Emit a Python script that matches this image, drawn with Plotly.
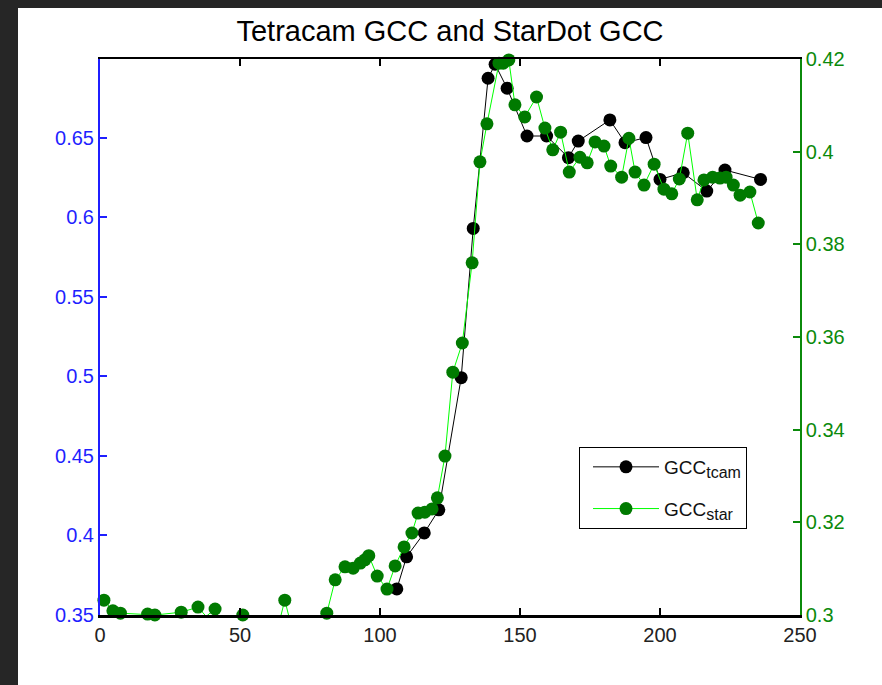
import numpy as np
import plotly.graph_objects as go

# ---------------- data ----------------
# Tetracam GCC (left axis)
tcam_day = [106, 109.5, 115.8, 121, 129, 133.3, 138.6, 141.1, 145.4,
            152.5, 159.5, 167.3, 170.8, 182.1, 187.5, 195.0, 200.0, 208.3, 216.7,
            223.2, 235.9]
tcam_gcc = [0.3664, 0.3866, 0.4016, 0.4161, 0.4992, 0.5930,
            0.6874, 0.6962, 0.6811, 0.6511, 0.6511, 0.6375, 0.6479, 0.6612, 0.6469,
            0.6501, 0.6238, 0.6280, 0.6165, 0.6297, 0.6238]

# StarDot GCC (right axis); values below 0.30 fall outside the plotted range
star_day = [1.4, 4.6, 7.3, 17, 19.6, 29, 35, 37.9, 41.1, 44, 51, 55, 59, 63, 66, 69, 73,
            77, 81, 84, 87.5, 90.4, 93, 94.6, 96, 99, 102.5, 105.4, 108.6, 111.4, 113.6,
            116, 118.6, 120.5, 123.2, 126, 129.4, 132.9, 135.7, 138.2, 142.5, 144, 146,
            148.2, 151.7, 155.9, 158.9, 161.7, 164.5, 167.6, 171.4, 174, 176.8, 180,
            182.4, 186.3, 188.9, 191.1, 194.3, 197.9, 201.4, 204.2, 206.9, 209.9, 213.3,
            215.7, 218.8, 221.4, 223.6, 226.2, 228.6, 232.1, 235.1]
star_gcc = [0.3032, 0.3009, 0.3004, 0.3002, 0.3000, 0.3006, 0.3017, 0.2997, 0.3013, 0.2970,
            0.3000, 0.2960, 0.2960, 0.2960, 0.3032, 0.2960, 0.2960, 0.2960, 0.3004, 0.3076,
            0.3104, 0.3101, 0.3112, 0.3119, 0.3128, 0.3084, 0.3056, 0.3106, 0.3147, 0.3177,
            0.3220, 0.3222, 0.3229, 0.3253, 0.3343, 0.3524, 0.3587, 0.3760, 0.3978, 0.4060,
            0.4191, 0.4191, 0.4198, 0.4101, 0.4075, 0.4118, 0.4051, 0.4004, 0.4042, 0.3956,
            0.3988, 0.3976, 0.4021, 0.4012, 0.3969, 0.3945, 0.4029, 0.3956, 0.3928, 0.3973,
            0.3919, 0.3909, 0.3941, 0.4040, 0.3896, 0.3939, 0.3945, 0.3943, 0.3945, 0.3928,
            0.3906, 0.3913, 0.3846]

x_ticks = [0, 50, 100, 150, 200, 250]
left_ticks = [0.35, 0.40, 0.45, 0.50, 0.55, 0.60, 0.65]
left_labels = ["0.35", "0.4", "0.45", "0.5", "0.55", "0.6", "0.65"]
right_ticks = [0.30, 0.32, 0.34, 0.36, 0.38, 0.40, 0.42]
right_labels = ["0.3", "0.32", "0.34", "0.36", "0.38", "0.4", "0.42"]

LEFT_RANGE = [0.35, 0.6995]
RIGHT_RANGE = [0.30, 0.42]

BLUE = "#1f1fff"
GREEN = "#0b8a0b"
FONT = "Liberation Sans, Arial, sans-serif"

td = np.array(tcam_day); tg = np.array(tcam_gcc)
sd = np.array(star_day); sg = np.array(star_gcc)
tmask = tg >= LEFT_RANGE[0] - 0.0005
smask = sg >= RIGHT_RANGE[0] - 0.0005

fig = go.Figure()

# Tetracam
fig.add_trace(go.Scatter(x=td, y=tg, mode="lines", line=dict(color="black", width=1),
                         showlegend=False, hoverinfo="skip", yaxis="y"))
fig.add_trace(go.Scatter(x=td[tmask], y=tg[tmask], mode="markers", cliponaxis=False,
                         marker=dict(color="black", size=13, line=dict(width=0)),
                         showlegend=False, yaxis="y"))
fig.add_trace(go.Scatter(x=[None], y=[None], mode="lines+markers",
                         name="GCC<sub><span style='font-size:16px'>tcam</span></sub>",
                         legendgroup="a",
                         line=dict(color="black", width=1),
                         marker=dict(color="black", size=13), yaxis="y"))
# StarDot
fig.add_trace(go.Scatter(x=sd, y=sg, mode="lines", line=dict(color="#00ff00", width=1),
                         showlegend=False, hoverinfo="skip", yaxis="y2"))
fig.add_trace(go.Scatter(x=sd[smask], y=sg[smask], mode="markers", cliponaxis=False,
                         marker=dict(color="#007a00", size=13, line=dict(width=0)),
                         showlegend=False, yaxis="y2"))
fig.add_trace(go.Scatter(x=[None], y=[None], mode="lines+markers",
                         name="GCC<sub><span style='font-size:16px'>star</span></sub>",
                         legendgroup="b",
                         line=dict(color="#00ff00", width=1),
                         marker=dict(color="#007a00", size=13), yaxis="y2"))
# empty trace so the top (mirror) axis is drawn
fig.add_trace(go.Scatter(x=[None], y=[None], mode="lines", xaxis="x2", yaxis="y",
                         showlegend=False, hoverinfo="skip"))

L, R, T, B = 100, 82, 59, 70
W, H = 882, 685
pw, ph = W - L - R, H - T - B

fig.update_layout(
    width=W, height=H,
    margin=dict(l=L, r=R, t=T, b=B),
    paper_bgcolor="#262626",
    plot_bgcolor="white",
    font=dict(family=FONT, size=20, color="#111111"),
    title=dict(text="Tetracam GCC and StarDot GCC", font=dict(size=29, color="black", family=FONT),
               x=0.5, xref="paper", xanchor="center", y=1 - 31 / H, yref="container",
               yanchor="middle"),
    xaxis=dict(range=[0, 250], tickvals=x_ticks, ticks="inside", ticklen=7, tickwidth=1.5,
               tickcolor="black", showline=True, linecolor="black", linewidth=2.5,
               showgrid=False, zeroline=False, tickfont=dict(size=20, color="#222222")),
    xaxis2=dict(range=[0, 250], tickvals=x_ticks, ticks="inside", ticklen=7, tickwidth=1.5,
                tickcolor="black", showline=True, linecolor="black", linewidth=1.5,
                showgrid=False, zeroline=False, showticklabels=False, overlaying="x",
                side="top", matches="x"),
    yaxis=dict(range=LEFT_RANGE, tickvals=left_ticks, ticktext=left_labels, ticks="inside",
               ticklen=7, tickwidth=1.5, tickcolor=BLUE, showline=True, linecolor=BLUE,
               linewidth=2, showgrid=False, zeroline=False,
               tickfont=dict(size=20, color=BLUE)),
    yaxis2=dict(range=RIGHT_RANGE, tickvals=right_ticks, ticktext=right_labels,
                ticks="inside", ticklen=7, tickwidth=1.5, tickcolor=GREEN, showline=True,
                linecolor=GREEN, linewidth=1.5, showgrid=False, zeroline=False,
                overlaying="y", side="right", tickfont=dict(size=20, color=GREEN)),
    legend=dict(x=(579 - L) / pw, y=(H - B - 447) / ph, xanchor="left", yanchor="top",
                bgcolor="white", bordercolor="black", borderwidth=1,
                font=dict(size=19, color="#111111", family=FONT), itemwidth=66,
                indentation=8, tracegroupgap=14),
    shapes=[dict(type="rect", xref="paper", yref="paper", layer="below",
                 x0=(18 - L) / pw, x1=(W - L + 20) / pw,
                 y0=-(B + 20) / ph, y1=(H - B - 8) / ph,
                 fillcolor="white", line=dict(width=0))],
    showlegend=True,
)

fig.write_html("out.html")
